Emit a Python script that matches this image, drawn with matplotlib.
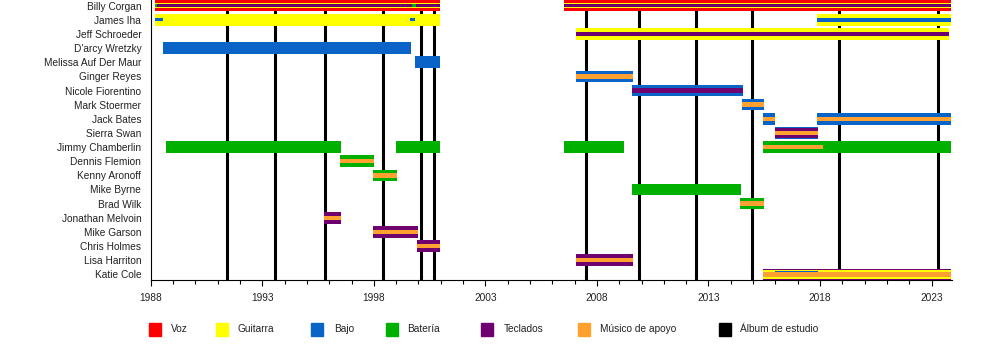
import matplotlib
matplotlib.use("Agg")
import matplotlib.pyplot as plt
from matplotlib.patches import Rectangle
from matplotlib.ticker import MultipleLocator

plt.rcParams['font.family'] = ['Liberation Sans', 'DejaVu Sans']

# members, top to bottom
members = ["Billy Corgan", "James Iha", "Jeff Schroeder", "D'arcy Wretzky",
           "Melissa Auf Der Maur", "Ginger Reyes", "Nicole Fiorentino",
           "Mark Stoermer", "Jack Bates", "Sierra Swan", "Jimmy Chamberlin",
           "Dennis Flemion", "Kenny Aronoff", "Mike Byrne", "Brad Wilk",
           "Jonathan Melvoin", "Mike Garson", "Chris Holmes", "Lisa Harriton",
           "Katie Cole"]

# role names as in the legend
roles = ["Voz", "Guitarra", "Bajo", "Batería", "Teclados", "Músico de apoyo", "Álbum de estudio"]

# (member, start, end, roles from outer stripe to inner stripe)
spans = [
    ("Billy Corgan", 1988.2, 2000.98, ("Voz", "Guitarra", "Teclados")),
    ("Billy Corgan", 2006.53, 2023.87, ("Voz", "Guitarra", "Teclados")),
    ("James Iha", 1988.2, 2000.98, ("Guitarra",)),
    ("James Iha", 2017.87, 2023.87, ("Guitarra", "Bajo")),
    ("Jeff Schroeder", 2007.06, 2023.8, ("Guitarra", "Teclados")),
    ("D'arcy Wretzky", 1988.55, 1999.65, ("Bajo",)),
    ("Melissa Auf Der Maur", 1999.85, 2000.98, ("Bajo",)),
    ("Ginger Reyes", 2007.06, 2009.62, ("Bajo", "Músico de apoyo")),
    ("Nicole Fiorentino", 2009.57, 2014.53, ("Bajo", "Teclados")),
    ("Mark Stoermer", 2014.5, 2015.49, ("Bajo", "Músico de apoyo")),
    ("Jack Bates", 2015.45, 2016.0, ("Bajo", "Músico de apoyo")),
    ("Jack Bates", 2017.87, 2023.87, ("Bajo", "Músico de apoyo")),
    ("Sierra Swan", 2015.98, 2017.9, ("Bajo", "Teclados", "Músico de apoyo")),
    ("Jimmy Chamberlin", 1988.69, 1996.52, ("Batería",)),
    ("Jimmy Chamberlin", 1999.0, 2000.98, ("Batería",)),
    ("Jimmy Chamberlin", 2006.53, 2009.21, ("Batería",)),
    ("Jimmy Chamberlin", 2015.45, 2018.12, ("Batería", "Músico de apoyo")),
    ("Jimmy Chamberlin", 2018.12, 2023.87, ("Batería",)),
    ("Dennis Flemion", 1996.49, 1998.0, ("Batería", "Músico de apoyo")),
    ("Kenny Aronoff", 1997.96, 1999.03, ("Batería", "Músico de apoyo")),
    ("Mike Byrne", 2009.57, 2014.44, ("Batería",)),
    ("Brad Wilk", 2014.41, 2015.49, ("Batería", "Músico de apoyo")),
    ("Jonathan Melvoin", 1995.77, 1996.52, ("Teclados", "Músico de apoyo")),
    ("Mike Garson", 1997.96, 1999.97, ("Teclados", "Músico de apoyo")),
    ("Chris Holmes", 1999.95, 2000.98, ("Teclados", "Músico de apoyo")),
    ("Lisa Harriton", 2007.06, 2009.62, ("Teclados", "Músico de apoyo")),
    ("Katie Cole", 2015.45, 2015.98, ("Teclados", "Guitarra", "Músico de apoyo")),
    ("Katie Cole", 2015.98, 2017.9, ("Teclados", "Guitarra", "Bajo", "Músico de apoyo")),
    ("Katie Cole", 2017.9, 2023.87, ("Teclados", "Guitarra", "Músico de apoyo")),
]

# short extra parts (member, start, end, role)
marks = [
    ("Billy Corgan", 1988.2, 1988.3, "Batería"),
    ("Billy Corgan", 1999.7, 1999.9, "Batería"),
    ("James Iha", 1988.2, 1988.55, "Bajo"),
    ("James Iha", 1999.62, 1999.86, "Bajo"),
]

# studio albums
albums = [1991.4, 1993.55, 1995.8, 1998.4, 2000.1, 2000.7,
          2007.5, 2009.9, 2012.45, 2014.93, 2018.87, 2023.3]

colors = {"Voz": "#ff0000", "Guitarra": "#ffff00", "Bajo": "#0a64c8",
          "Batería": "#00b000", "Teclados": "#6e0070",
          "Músico de apoyo": "#ffa030", "Álbum de estudio": "#000000"}

bar_h = 0.81
stripe_widths = {1: [1.0], 2: [1.0, 0.38], 3: [1.0, 0.8, 0.42], 4: [1.0, 0.78, 0.5, 0.38]}
custom_widths = {"Billy Corgan": [1.0, 0.4, 0.3]}

fig = plt.figure(figsize=(10, 3.5), dpi=100)
ax = fig.add_axes([0.1507, 0.2, 0.801, 0.8])

row = {m: i for i, m in enumerate(members)}

for member, start, end, rl in spans:
    widths = custom_widths.get(member, stripe_widths[len(rl)])
    for k, (r, w) in enumerate(zip(rl, widths)):
        ax.barh(row[member], end - start, left=start, height=bar_h * w,
                color=colors[r], linewidth=0, zorder=3 + k)

for member, start, end, r in marks:
    ax.barh(row[member], end - start, left=start, height=bar_h * 0.28,
            color=colors[r], linewidth=0, zorder=8)

for a in albums:
    ax.axvline(a, color="black", lw=2.2, zorder=2)

ax.set_xlim(1988, 2023.9)
ax.set_ylim(len(members) - 1 + 0.4, -0.4)
ax.set_yticks(range(len(members)))
ax.set_yticklabels(members, fontsize=7.3, color="#222222")
ax.tick_params(axis="y", length=0, pad=6.8)

ax.xaxis.set_major_locator(MultipleLocator(5))
ax.xaxis.set_minor_locator(MultipleLocator(1))
ax.set_xticks(range(1988, 2024, 5))
ax.tick_params(axis="x", which="major", length=4.3, width=0.8, labelsize=7.3,
               pad=5, labelcolor="#222222")
ax.tick_params(axis="x", which="minor", length=2.8, width=0.8)

for s in ["top", "right"]:
    ax.spines[s].set_visible(False)
for s in ["left", "bottom"]:
    ax.spines[s].set_linewidth(0.8)

# legend row
leg_sq = [148.6, 216, 311.4, 385.7, 481, 577.7, 718.9]
leg_tx = [171.4, 237, 334, 407, 504, 600, 740]
for r, sx, tx in zip(roles, leg_sq, leg_tx):
    fig.patches.append(Rectangle((sx / 1000, 1 - 335.5 / 350), 12 / 1000, 13 / 350,
                                 transform=fig.transFigure, color=colors[r]))
    fig.text(tx / 1000, 1 - 328.5 / 350, r, fontsize=7.3, va="center", ha="left",
             color="#222222")

fig.savefig("out.png", dpi=100)
